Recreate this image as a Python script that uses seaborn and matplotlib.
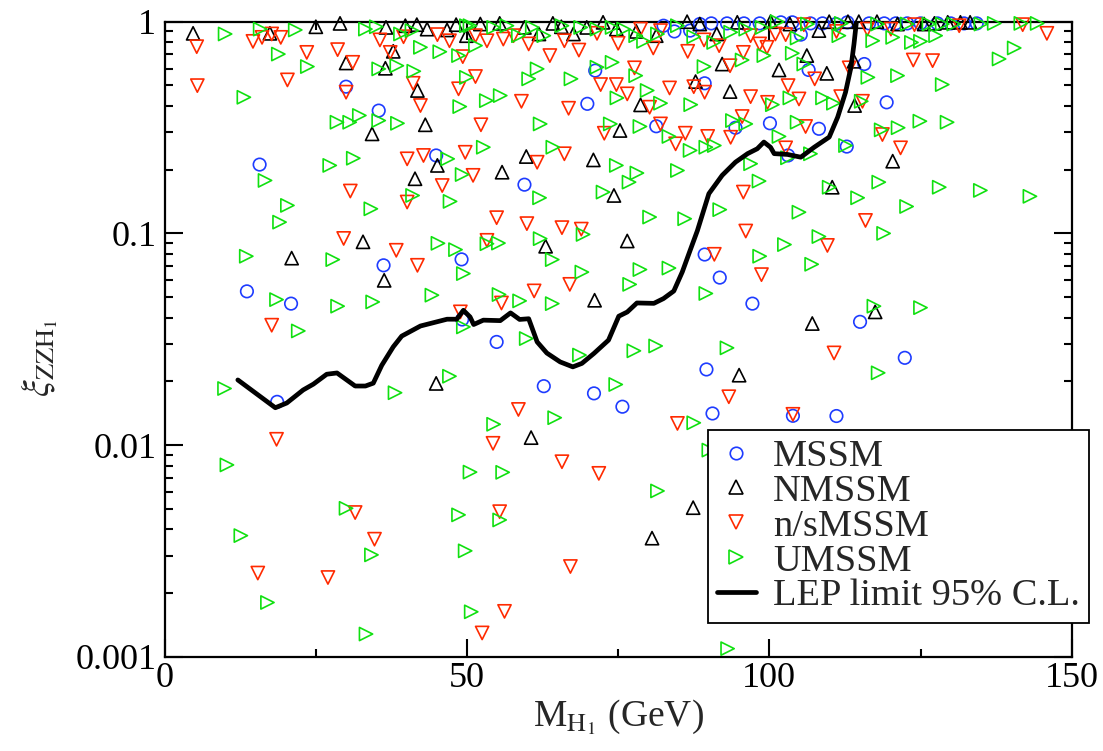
import numpy as np
import pandas as pd
import matplotlib
matplotlib.use("Agg")
import matplotlib.pyplot as plt
from matplotlib.ticker import FixedLocator, FixedFormatter, LogLocator, NullFormatter, MultipleLocator
from matplotlib.lines import Line2D
import seaborn as sns

# Lightest Higgs mass (GeV) and log10 of the ZZH1 coupling ratio, per model
mssm_mass = [30.0, 35.4, 15.7, 44.9, 13.6, 20.9, 36.2, 49.1, 49.2, 18.6,
             54.9, 62.7, 71.0, 75.7, 89.3, 91.8, 97.2, 89.6, 90.6,
             82.5, 84.3, 86.9, 88.5, 90.4, 93.0, 95.8, 98.4,
             71.2, 69.9, 89.3, 81.3, 94.4, 100.1, 59.5,
             101.9, 103.8, 106.8, 108.8, 111.0, 112.9, 116.5, 119.0, 120.9, 122.8,
             125.0, 127.8, 130.0, 132.2, 134.3, 105.2,
             115.7, 106.5, 119.4, 108.2, 103.1, 112.8,
             115.0, 122.4, 103.9, 111.1]
mssm_logxi = [-0.307, -0.420, -0.675, -0.632, -1.274, -1.332, -1.151, -1.123, -1.407, -1.796,
              -1.513, -1.722, -1.756, -1.819, -1.100, -1.209, -1.332, -1.643, -1.851,
              -0.019, -0.046, -0.042, -0.011, -0.008, -0.008, -0.008, -0.008,
              -0.231, -0.388, -0.291, -0.494, -0.501, -0.480, -0.770,
              -0.003, -0.003, -0.008, -0.008, -0.011, -0.003, -0.008, -0.008, -0.008, -0.008,
              -0.008, -0.008, -0.008, -0.008, -0.008, -0.061,
              -0.200, -0.228, -0.381, -0.506, -0.632, -0.590,
              -1.418, -1.588, -1.862, -1.863]

nmssm_mass = [4.7, 17.4, 25.0, 29.0, 36.6, 39.8, 41.7, 43.4, 46.7, 48.2, 49.9,
              37.8, 30.0, 36.5, 41.8, 34.3, 43.1, 45.1, 41.4, 32.8,
              21.0, 36.3, 44.9, 87.4, 80.6,
              63.0, 76.5, 71.1, 60.6, 95.0,
              52.2, 55.4, 59.5, 64.2, 65.6, 69.8, 72.5, 74.7, 78.0, 81.3, 86.4, 88.5,
              91.3, 94.7, 61.9, 67.6,
              92.2, 87.8, 93.5, 78.7, 75.3, 70.9, 55.8, 59.8, 74.3,
              100.2, 103.4, 108.2, 109.9, 113.0, 114.8, 117.8, 121.2, 125.6, 127.3,
              129.5, 131.6, 133.2,
              106.2, 101.6, 109.5, 114.0, 114.1, 120.4, 110.4,
              107.1, 117.5]
nmssm_logxi = [-0.055, -0.055, -0.024, -0.008, -0.027, -0.019, -0.014, -0.035, -0.039, -0.014, -0.066,
               -0.140, -0.195, -0.220, -0.325, -0.530, -0.487, -0.679, -0.742, -1.040,
               -1.117, -1.222, -1.709, -2.296, -2.440,
               -1.061, -1.036, -1.316, -1.965, -1.670,
               -0.011, -0.008, -0.027, -0.008, -0.024, -0.027, -0.003, -0.035, -0.046, -0.066, 0.0, -0.011,
               -0.058, -0.003, -0.058, -0.058,
               -0.200, -0.283, -0.330, -0.393, -0.514, -0.653, -0.711, -0.637, -0.821,
               0.0, -0.011, -0.042, 0.0, 0.0, 0.0, 0.0, -0.011, -0.011, -0.008,
               -0.003, -0.003, -0.003,
               -0.160, -0.228, -0.244, -0.187, -0.396, -0.659, -0.782,
               -1.426, -1.371]

nsmssm_mass = [5.3, 5.4, 14.6, 16.1, 17.7, 19.2, 23.5, 20.3, 28.6, 31.1, 30.0, 35.6, 37.3,
               39.5, 41.1, 42.3, 45.1, 47.1, 49.3, 48.6, 40.1, 42.8, 49.7, 45.9, 30.7, 40.1, 29.6,
               38.3, 41.8, 17.7, 48.9, 18.5,
               31.5, 34.7, 15.4, 27.0,
               54.3, 65.7, 71.8, 55.4, 67.1, 56.2, 52.5,
               53.3, 67.0, 61.1, 55.7, 90.9, 98.7, 58.5, 84.8, 93.3,
               51.4, 53.3, 56.0, 57.7, 60.2, 66.1, 68.5, 71.5, 75.0, 78.7, 80.8, 82.0, 86.5,
               89.2, 91.7, 96.9, 98.4, 99.6, 95.7,
               63.7, 51.4, 59.0, 66.8, 72.1, 74.7, 76.5, 77.7, 83.5, 87.5, 89.3, 93.5, 96.9,
               99.7, 80.2, 52.3, 72.7, 82.0, 84.5, 86.1, 89.8, 93.6, 95.5, 51.0, 61.6, 66.1,
               95.7, 54.9, 59.9, 65.7, 68.9, 96.1,
               105.7, 101.0, 102.7, 111.1, 116.2, 120.1, 124.0, 131.4, 141.9, 145.9,
               123.8, 127.0, 113.2, 107.5, 103.1, 104.9, 111.8, 115.4, 106.0, 118.7, 102.7,
               121.7, 115.9,
               109.6, 110.7, 103.9]
nsmssm_logxi = [-0.118, -0.302, -0.093, -0.074, -0.058, -0.074, -0.145, -0.275, -0.132, -0.192, -0.333, -0.086, -0.145,
                -0.071, -0.291, -0.396, -0.061, -0.090, -0.165, -0.317, -0.648, -0.632, -0.617, -0.774, -0.800, -0.852, -1.024,
                -1.080, -1.151, -1.434, -1.371, -1.973,
                -2.319, -2.445, -2.605, -2.626,
                -1.992, -2.079, -2.134, -2.315, -2.574, -2.786, -2.888,
                -1.033, -1.241, -1.272, -1.329, -1.099, -1.195, -1.832, -1.898, -1.772,
                -0.066, -0.090, -0.082, -0.066, -0.105, -0.090, -0.134, -0.055, -0.102, -0.035, -0.124, -0.042, -0.140,
                -0.086, -0.113, -0.066, -0.105, -0.121, -0.145,
                -0.160, -0.259, -0.376, -0.409, -0.297, -0.297, -0.341, -0.218, -0.313, -0.307, -0.333, -0.208, -0.354,
                -0.381, -0.404, -0.487, -0.527, -0.483, -0.577, -0.527, -0.542, -0.546, -0.448, -0.726, -0.664, -0.624,
                -0.805, -0.926, -0.954, -0.973, -0.980, -0.989,
                -0.014, -0.058, -0.061, -0.046, -0.035, -0.035, -0.014, -0.019, -0.014, -0.055,
                -0.181, -0.184, -0.218, -0.270, -0.302, -0.365, -0.354, -0.376, -0.495, -0.533, -0.596,
                -0.596, -0.939,
                -1.057, -1.565, -1.855]

umssm_mass = [10.0, 15.8, 21.6, 33.2, 35.0, 39.0, 40.9, 49.9, 18.8, 23.6, 35.4, 38.4, 41.2, 42.3,
              45.5, 48.6, 49.9, 13.1, 28.5, 30.6, 32.2, 35.4, 38.5, 48.8, 31.2, 27.3, 16.6, 46.8,
              49.2, 41.0, 47.2, 34.1, 20.3, 19.0, 45.2,
              13.5, 27.8, 48.1, 49.4, 18.5, 28.6, 34.4, 44.2, 22.1, 49.4, 9.9, 38.1, 47.1,
              10.3, 30.0, 48.6, 50.5, 12.6, 34.2, 49.7, 17.0, 33.3, 50.7,
              55.9, 55.4, 81.5, 93.1, 90.0,
              53.3, 55.2, 62.1, 69.2, 64.1, 69.0, 78.6, 83.4, 76.9, 55.3, 58.7, 64.1, 59.8, 68.6,
              77.6, 81.2, 74.6, 64.5, 54.4, 98.4, 89.5, 93.0, 87.5,
              50.5, 54.4, 56.6, 58.5, 60.8, 62.7, 65.7, 68.8, 71.5, 74.0, 75.9, 77.9, 79.2, 81.5,
              84.8, 87.5, 90.8, 93.6, 96.1, 98.8, 51.4, 99.1,
              74.0, 71.5, 77.9, 67.2, 61.6, 60.2, 89.2, 95.5, 79.8, 74.8, 82.0, 87.0, 53.2, 55.5,
              62.1, 73.7, 78.6, 93.9, 96.1, 83.4, 86.9, 89.5, 90.9, 52.7, 64.2, 74.7, 78.1, 76.8,
              84.8, 96.9, 98.3, 62.0, 72.5, 80.2, 86.0, 91.8,
              101.3, 106.3, 111.9, 117.9, 122.8, 126.4, 128.6, 130.5, 135.0, 137.2, 141.6, 144.3,
              104.6, 111.5, 117.1, 120.4, 123.5, 125.0, 127.5, 103.8, 138.0, 140.5,
              105.7, 116.3, 121.2, 128.6, 103.4, 100.5, 108.8, 110.6, 115.2, 104.6, 101.6, 118.5,
              121.3, 124.9, 129.4, 112.6, 106.8, 103.0, 109.9, 118.1, 128.1, 134.9, 143.1, 114.6,
              122.7, 104.9, 108.2, 118.9,
              102.5, 107.0, 117.3, 125.0, 118.0]
umssm_logxi = [-0.058, -0.035, -0.039, -0.035, -0.024, -0.058, -0.042, -0.019, -0.153, -0.212, -0.223, -0.208, -0.234, -0.121,
               -0.142, -0.160, -0.263, -0.357, -0.475, -0.475, -0.443, -0.467, -0.480, -0.401, -0.645, -0.679, -0.750, -0.648,
               -0.722, -0.821, -0.849, -0.884, -0.868, -0.947, -1.047,
               -1.108, -1.124, -1.077, -1.190, -1.313, -1.344, -1.324, -1.292, -1.461, -1.442, -1.733, -1.753, -1.675,
               -2.094, -2.299, -2.330, -2.128, -2.428, -2.519, -2.500, -2.744, -2.893, -2.788,
               -2.129, -2.354, -2.217, -2.962, -2.024,
               -1.049, -1.046, -1.025, -1.005, -1.124, -1.183, -1.171, -1.164, -1.241, -1.289, -1.319, -1.332, -1.497, -1.575,
               -1.555, -1.532, -1.714, -1.871, -1.902, -1.108, -1.284, -1.541, -1.895,
               -0.019, -0.027, -0.019, -0.066, -0.027, -0.066, -0.019, -0.027, -0.035, -0.027, -0.035, -0.066, -0.093, -0.058,
               -0.019, -0.071, -0.098, -0.050, -0.035, -0.027, -0.113, -0.160,
               -0.192, -0.215, -0.255, -0.270, -0.223, -0.270, -0.212, -0.181, -0.325, -0.360, -0.385, -0.392, -0.373, -0.349,
               -0.483, -0.483, -0.495, -0.467, -0.483, -0.542, -0.608, -0.593, -0.585, -0.593, -0.593, -0.679, -0.715, -0.758,
               -0.703, -0.671, -0.753, -0.832, -0.805, -0.923, -0.931, -0.888,
               0.0, -0.011, -0.008, -0.011, -0.011, -0.011, -0.011, -0.011, -0.011, -0.008, -0.008, -0.008,
               -0.077, -0.066, -0.090, -0.074, -0.098, -0.093, -0.066, -0.149, -0.176, -0.124,
               -0.200, -0.263, -0.255, -0.297, -0.360, -0.392, -0.360, -0.385, -0.376, -0.475, -0.542, -0.511,
               -0.501, -0.470, -0.475, -0.585, -0.624, -0.643, -0.782, -0.758, -0.782, -0.797, -0.825, -0.832,
               -0.873, -0.900, -1.015, -1.000,
               -1.053, -1.146, -1.344, -1.351, -1.659]

# LEP 95% C.L. exclusion limit
lep_mass = [12.1, 18.3, 20.2, 22.9, 24.6, 26.8, 28.5, 31.5, 33.2, 34.5, 35.9, 37.8, 39.2,
            42.3, 46.7, 48.3, 49.4, 50.5, 51.1, 52.7, 55.5, 57.2, 58.7, 60.2, 61.6, 63.2,
            65.4, 67.5, 69.0, 71.0, 73.4, 75.1, 76.5, 78.1, 80.9, 82.5, 84.2, 85.6, 86.9,
            88.1, 90.0, 92.2, 94.4, 96.4, 98.0, 99.1, 100.2, 100.8, 103.0, 105.2, 107.4,
            109.9, 111.3, 112.6, 113.5, 114.0, 114.4]
lep_limit = [0.0203, 0.0150, 0.0158, 0.0182, 0.0194, 0.0216, 0.0219, 0.0190, 0.0190, 0.0196,
             0.0238, 0.0291, 0.0327, 0.0365, 0.0393, 0.0393, 0.0433, 0.0403, 0.0371, 0.0389,
             0.0387, 0.0421, 0.0392, 0.0395, 0.0307, 0.0272, 0.0247, 0.0234, 0.0243, 0.0271,
             0.0313, 0.0406, 0.0425, 0.0469, 0.0467, 0.0492, 0.0534, 0.0657, 0.0831, 0.103,
             0.154, 0.188, 0.217, 0.238, 0.251, 0.270, 0.255, 0.238, 0.236, 0.229, 0.255,
             0.285, 0.354, 0.464, 0.609, 0.785, 1.0]

y_ticks = [0.001, 0.01, 0.1, 1]
y_tick_labels = ["0.001", "0.01", "0.1", "1"]
x_ticks = [0, 50, 100, 150]

sns.set_style("ticks")
plt.rcParams["font.family"] = ["Liberation Serif", "DejaVu Serif"]
plt.rcParams["mathtext.fontset"] = "stix"

fig = plt.figure(figsize=(11.03, 7.51), dpi=100)
ax = fig.add_axes([0.1493, 0.1256, 0.8223, 0.8455])

series = [
    ("MSSM", mssm_mass, mssm_logxi, "o", "#1e3cff", 9.0),
    ("NMSSM", nmssm_mass, nmssm_logxi, "^", "#000000", 9.5),
    ("n/sMSSM", nsmssm_mass, nsmssm_logxi, "v", "#ff2a00", 9.5),
    ("UMSSM", umssm_mass, umssm_logxi, ">", "#10e010", 9.5),
]

handles = []
for name, mass, logxi, mk, col, ms in series:
    df = pd.DataFrame({"mass": mass, "xi": 10.0 ** np.asarray(logxi)})
    sns.scatterplot(data=df, x="mass", y="xi", marker=mk, s=ms ** 2,
                    facecolors="none", edgecolor=col, linewidth=1.2,
                    clip_on=False, zorder=3, ax=ax, legend=False)
    handles.append(Line2D([], [], linestyle="none", marker=mk, markersize=ms,
                          markerfacecolor="none", markeredgecolor=col,
                          markeredgewidth=1.2, label=name))

lep_df = pd.DataFrame({"mass": lep_mass, "limit": lep_limit})
sns.lineplot(data=lep_df, x="mass", y="limit", sort=False, color="black",
             linewidth=3.4, zorder=4, ax=ax)
handles.append(Line2D([], [], color="black", linewidth=3.4, label="LEP limit 95% C.L."))

ax.set_yscale("log")
ax.set_xlim(0, 150)
ax.set_ylim(0.001, 1)
ax.xaxis.set_major_locator(FixedLocator(x_ticks))
ax.xaxis.set_minor_locator(MultipleLocator(25))
ax.yaxis.set_major_locator(FixedLocator(y_ticks))
ax.yaxis.set_major_formatter(FixedFormatter(y_tick_labels))
ax.yaxis.set_minor_locator(LogLocator(base=10, subs=np.arange(2, 10)))
ax.yaxis.set_minor_formatter(NullFormatter())

ax.tick_params(which="both", direction="in", top=True, right=True,
               width=1.5, colors="black")
ax.tick_params(which="major", length=13)
ax.tick_params(which="minor", length=6)
ax.tick_params(axis="x", which="major", labelsize=26, pad=4)
ax.tick_params(axis="y", which="major", labelsize=26, pad=6)
for sp in ax.spines.values():
    sp.set_linewidth(1.6)
    sp.set_color("black")

ax.set_xlabel(r"M$_{\mathrm{H}_1}$ (GeV)", fontsize=27, labelpad=2)
ax.set_ylabel(r"$\xi_{\mathrm{ZZH}_1}$", fontsize=27, va="center")
ax.yaxis.set_label_coords(-0.138, 0.47)

leg = ax.legend(handles=handles, loc="upper left", bbox_to_anchor=(0.599, 0.357),
                borderaxespad=0, fontsize=27.6, frameon=True, fancybox=False,
                framealpha=1, edgecolor="black", handlelength=1.0,
                handletextpad=0.45, labelspacing=0.0, borderpad=0.24)
leg.get_frame().set_linewidth(1.3)
leg.set_zorder(5)

fig.savefig("out.png", dpi=100)
